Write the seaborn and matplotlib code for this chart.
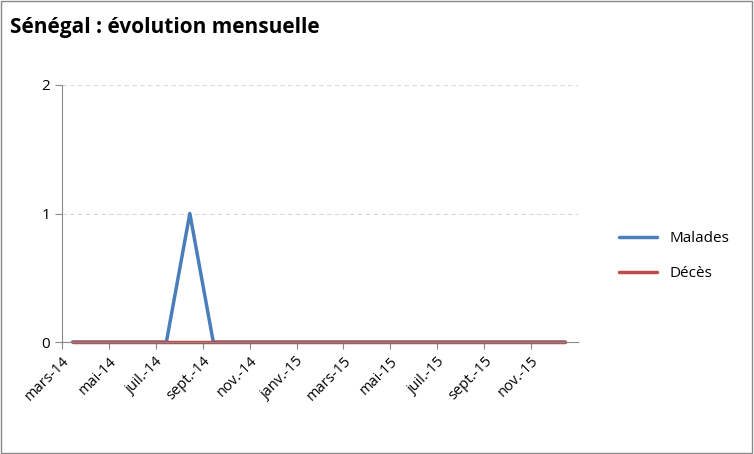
import matplotlib
matplotlib.use("Agg")
import matplotlib.pyplot as plt
import seaborn as sns
import pandas as pd
import numpy as np

months = ["mars-14","avr.-14","mai-14","juin-14","juil.-14","août-14","sept.-14","oct.-14","nov.-14","déc.-14",
          "janv.-15","févr.-15","mars-15","avr.-15","mai-15","juin-15","juil.-15","août-15","sept.-15","oct.-15","nov.-15","déc.-15"]
malades = [0,0,0,0,0,1,0,0,0,0,0,0,0,0,0,0,0,0,0,0,0,0]
deces = [0]*22
tick_labels = months[::2]

sns.set_style("white")
plt.rcParams['font.family'] = ['Open Sans', 'DejaVu Sans']
plt.rcParams['text.color'] = 'black'
plt.rcParams['xtick.color'] = 'black'
plt.rcParams['ytick.color'] = 'black'
fig = plt.figure(figsize=(7.54,4.54), dpi=100)
ax = fig.add_axes([62/754, 1-342/454, (578-62)/754, (342-85)/454])
x = np.arange(len(months)) + 0.45
df = pd.DataFrame({"x": np.concatenate([x, x]), "v": malades + deces,
                   "s": ["Malades"]*22 + ["Décès"]*22})
sns.lineplot(data=df, x="x", y="v", hue="s", hue_order=["Malades","Décès"],
             palette={"Malades":"#4a7ebb","Décès":"#be4b48"},
             linewidth=2.5, ax=ax, legend=False)
for ln in ax.lines:
    ln.set_clip_on(False)
ax.set_xlim(0, 22.0)
ax.set_ylim(0, 2)
ax.set_yticks([0,1,2])
ax.set_yticklabels(["0","1","2"], fontsize=11)
ax.set_xticks(np.arange(0, 22, 2))
ax.set_xticklabels(tick_labels, rotation=45, ha="right", rotation_mode="anchor", fontsize=10.5)
ax.tick_params(axis="x", length=5, color="#888888", bottom=True, direction="out")
ax.tick_params(axis="y", length=5, color="#888888", left=True, direction="out")
ax.set_xlabel(""); ax.set_ylabel("")
for y in [1,2]:
    ax.axhline(y, color="#d9d9d9", lw=0.8, ls=(0,(4,3)), zorder=0)
for s in ["top","right"]:
    ax.spines[s].set_visible(False)
for s in ["left","bottom"]:
    ax.spines[s].set_color("#888888")
fig.text(10/754, 1-28/454, "Sénégal : évolution mensuelle", fontsize=15, fontweight="bold", va="center")
from matplotlib.lines import Line2D
h = [Line2D([],[],color="#4a7ebb",lw=2.5), Line2D([],[],color="#be4b48",lw=2.5)]
fig.legend(h, ["Malades","Décès"], loc="center left", bbox_to_anchor=(605/754, 1-256/454),
           frameon=False, fontsize=11, handlelength=2.5, labelspacing=1.3)
fig.patches.append(plt.Rectangle((0.001,0.002),0.997,0.996, transform=fig.transFigure,
                   fill=False, edgecolor="#888888", lw=1))
fig.savefig("out.png", dpi=100)
